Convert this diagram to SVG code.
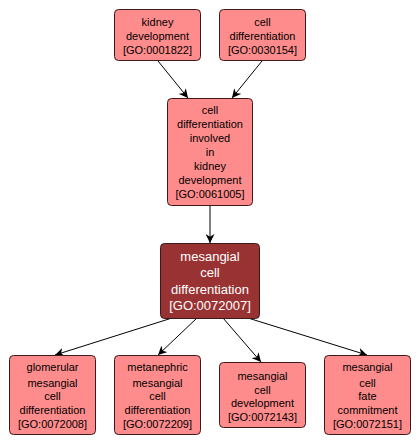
<svg xmlns="http://www.w3.org/2000/svg" width="420" height="446" viewBox="0 0 420 446">
<defs>
<style>
.n rect{fill:#ff8c8c;stroke:#3a1a1a;stroke-width:1}
.n text{font-family:"Liberation Sans",Arial,sans-serif;font-size:11px;fill:#000;text-anchor:middle}
#main rect{fill:#993333}
#main text{fill:#fff;font-size:13px}
.e line{stroke:#000;stroke-width:1;marker-end:url(#ar)}
</style>
<marker id="ar" viewBox="0 0 10 10" refX="10" refY="5" markerWidth="9" markerHeight="9" markerUnits="userSpaceOnUse" orient="auto">
<path d="M0,0 L10,5 L0,10 L3,5 z" fill="#000"/>
</marker>
</defs>
<rect width="420" height="446" fill="#fff"/>
<g class="e" id="edges">
<line x1="158" y1="61" x2="188" y2="98"/>
<line x1="262" y1="61" x2="232" y2="98"/>
<line x1="210" y1="205" x2="210" y2="243"/>
<line x1="172" y1="318" x2="55" y2="355"/>
<line x1="197" y1="318" x2="158" y2="355"/>
<line x1="223" y1="318" x2="261" y2="362"/>
<line x1="248" y1="318" x2="367" y2="355"/>
</g>
<g class="n" id="n0001822">
<rect x="114.5" y="9.5" width="86" height="51" rx="4"/>
<text x="157.5" y="26">kidney</text>
<text x="157.5" y="40">development</text>
<text x="157.5" y="54">[GO:0001822]</text>
</g>
<g class="n" id="n0030154">
<rect x="219.5" y="9.5" width="86" height="51" rx="4"/>
<text x="262.5" y="26">cell</text>
<text x="262.5" y="40">differentiation</text>
<text x="262.5" y="54">[GO:0030154]</text>
</g>
<g class="n" id="n0061005">
<rect x="167.5" y="98.5" width="85" height="107" rx="4"/>
<text x="210" y="114">cell</text>
<text x="210" y="128">differentiation</text>
<text x="210" y="142">involved</text>
<text x="210" y="156">in</text>
<text x="210" y="170">kidney</text>
<text x="210" y="184">development</text>
<text x="210" y="198">[GO:0061005]</text>
</g>
<g class="n" id="main">
<rect x="160.5" y="243.5" width="99" height="75" rx="4"/>
<text x="210" y="261">mesangial</text>
<text x="210" y="277">cell</text>
<text x="210" y="294">differentiation</text>
<text x="210" y="310">[GO:0072007]</text>
</g>
<g class="n" id="n0072008">
<rect x="9.5" y="355.5" width="86" height="79" rx="4"/>
<text x="52.5" y="371">glomerular</text>
<text x="52.5" y="387">mesangial</text>
<text x="52.5" y="400">cell</text>
<text x="52.5" y="414">differentiation</text>
<text x="52.5" y="428">[GO:0072008]</text>
</g>
<g class="n" id="n0072209">
<rect x="114.5" y="355.5" width="86" height="79" rx="4"/>
<text x="157.5" y="371">metanephric</text>
<text x="157.5" y="387">mesangial</text>
<text x="157.5" y="400">cell</text>
<text x="157.5" y="414">differentiation</text>
<text x="157.5" y="428">[GO:0072209]</text>
</g>
<g class="n" id="n0072143">
<rect x="219.5" y="362.5" width="86" height="65" rx="4"/>
<text x="262.5" y="380">mesangial</text>
<text x="262.5" y="394">cell</text>
<text x="262.5" y="407">development</text>
<text x="262.5" y="421">[GO:0072143]</text>
</g>
<g class="n" id="n0072151">
<rect x="324.5" y="355.5" width="86" height="79" rx="4"/>
<text x="367.5" y="371">mesangial</text>
<text x="367.5" y="387">cell</text>
<text x="367.5" y="400">fate</text>
<text x="367.5" y="414">commitment</text>
<text x="367.5" y="428">[GO:0072151]</text>
</g>
</svg>
